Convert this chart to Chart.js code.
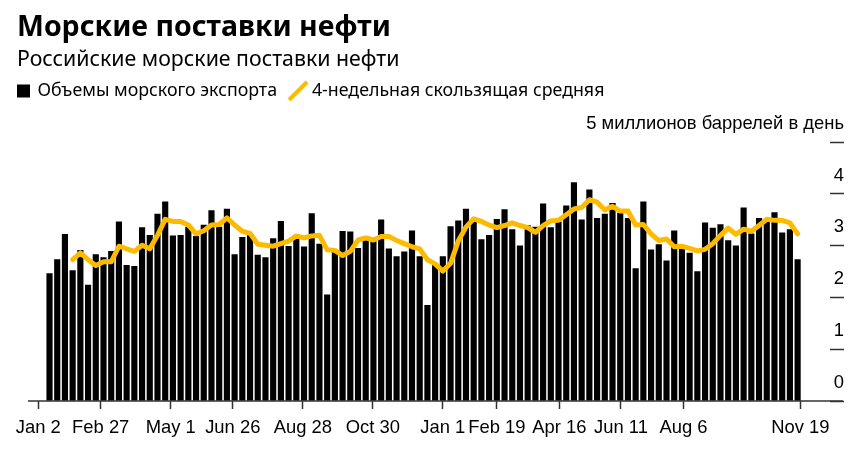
<!DOCTYPE html>
<html>
<head>
<meta charset="utf-8">
<script src="https://cdn.jsdelivr.net/npm/chart.js@4"></script>
<style>
	body { margin: 0; background: #fff; }
	#wrap { position: relative; width: 865px; height: 451px; }
	#title, #subtitle { position: absolute; left: 17px; color: #000; font-family: "Noto Sans"; white-space: nowrap; }
	#title { top: 6px; font-size: 28.5px; line-height: 38px; font-weight: 700; }
	#subtitle { top: 44px; font-size: 21.3px; line-height: 28px; }
</style>
</head>
<body>
<div id="wrap">
	<canvas id="oil-chart" width="865" height="451"></canvas>
	<div id="title">Морские поставки нефти</div>
	<div id="subtitle">Российские морские поставки нефти</div>
</div>
<script>
const seaExports = [
	2.46, 2.73, 3.22, 2.52, 2.91, 2.24, 2.83, 2.77, 2.89, 3.46,
	2.62, 2.60, 3.35, 3.20, 3.61, 3.85, 3.19, 3.20, 3.36, 3.18,
	3.40, 3.68, 3.36, 3.71, 2.83, 3.16, 3.20, 2.82, 2.77, 3.14,
	3.47, 2.99, 3.13, 2.98, 3.62, 3.03, 2.05, 2.88, 3.28, 3.27,
	2.95, 3.10, 3.08, 3.50, 2.94, 2.79, 2.88, 3.29, 2.79, 1.85,
	2.62, 2.79, 3.37, 3.48, 3.71, 3.46, 3.12, 3.20, 3.51, 3.70,
	3.31, 3.00, 3.39, 3.36, 3.81, 3.35, 3.46, 3.77, 4.22, 3.50,
	4.08, 3.53, 3.61, 3.82, 3.63, 3.53, 2.56, 3.85, 2.92, 3.02,
	2.71, 3.29, 2.94, 2.86, 2.50, 3.44, 3.34, 3.41, 3.10, 3.00,
	3.73, 3.23, 3.53, 3.49, 3.64, 3.25, 3.31, 2.73
];
// starts at the 4th week
const movingAverage = [
	2.73, 2.86, 2.73, 2.62, 2.69, 2.69, 2.99, 2.94, 2.89, 3.01,
	2.94, 3.20, 3.51, 3.47, 3.47, 3.40, 3.23, 3.29, 3.40, 3.41,
	3.54, 3.40, 3.28, 3.24, 3.03, 3.01, 2.99, 3.04, 3.09, 3.19,
	3.15, 3.19, 3.20, 2.92, 2.91, 2.81, 2.89, 3.11, 3.15, 3.11,
	3.18, 3.18, 3.10, 3.04, 2.98, 2.94, 2.73, 2.65, 2.51, 2.66,
	3.09, 3.36, 3.52, 3.47, 3.40, 3.35, 3.39, 3.44, 3.39, 3.35,
	3.26, 3.39, 3.48, 3.49, 3.60, 3.71, 3.74, 3.89, 3.84, 3.69,
	3.76, 3.67, 3.67, 3.40, 3.41, 3.23, 3.10, 3.13, 2.98, 2.99,
	2.95, 2.90, 2.93, 3.04, 3.20, 3.34, 3.22, 3.32, 3.28, 3.39,
	3.51, 3.49, 3.49, 3.44, 3.23
];
const xTickLabels = ['Jan 2', 'Feb 27', 'May 1', 'Jun 26', 'Aug 28', 'Oct 30', 'Jan 1', 'Feb 19', 'Apr 16', 'Jun 11', 'Aug 6', 'Nov 19'];
const xTickWeeks = [-1.45, 6.64, 15.72, 23.76, 32.84, 41.92, 51, 58, 66.1, 74.1, 82.2, 97.35];
const yTickValues = [0, 1, 2, 3, 4, 5];
const yTickLabels = ['0', '1', '2', '3', '4', '5 миллионов баррелей в день'];

const inkColor = '#000';
const tickColor = '#333';
const lineColor = '#fdbb00';
const axisFont = { family: 'Liberation Sans', size: 18.4 };

// legend mark for the moving average: a slanted stroke
const slash = document.createElement('canvas');
slash.width = 22;
slash.height = 22;
const slashCtx = slash.getContext('2d');
slashCtx.strokeStyle = lineColor;
slashCtx.lineWidth = 4;
slashCtx.beginPath();
slashCtx.moveTo(2, 20);
slashCtx.lineTo(20, 2);
slashCtx.stroke();

// the baseline runs past both ends of the plot
const baseline = {
	id: 'baseline',
	afterDatasetsDraw(chart) {
		const y = chart.scales.y.getPixelForValue(0);
		const ctx = chart.ctx;
		ctx.save();
		ctx.strokeStyle = tickColor;
		ctx.lineWidth = 1.5;
		ctx.beginPath();
		ctx.moveTo(28, y);
		ctx.lineTo(843, y);
		ctx.stroke();
		ctx.restore();
	}
};

new Chart(document.getElementById('oil-chart'), {
	type: 'bar',
	plugins: [baseline],
	data: {
		datasets: [{
			type: 'line',
			label: '4-недельная скользящая средняя',
			data: movingAverage.map((y, i) => ({ x: i + 3, y })),
			borderColor: lineColor,
			backgroundColor: lineColor,
			borderWidth: 5,
			borderJoinStyle: 'round',
			borderCapStyle: 'round',
			pointRadius: 0,
			tension: 0,
			order: 0
		}, {
			label: 'Объемы морского экспорта',
			data: seaExports.map((y, i) => ({ x: i, y })),
			backgroundColor: inkColor,
			barThickness: 5.5,
			order: 1
		}]
	},
	options: {
		responsive: false,
		animation: false,
		layout: { padding: { top: 66, left: 2.5, right: 21, bottom: 0 } },
		plugins: {
			tooltip: { enabled: false },
			legend: {
				align: 'start',
				reverse: true,
				labels: {
					color: inkColor,
					font: { family: 'Noto Sans', size: 17.8 },
					usePointStyle: true,
					boxHeight: 13,
					boxWidth: 10,
					padding: 16,
					generateLabels: chart => chart.data.datasets.map((ds, i) => ({
						text: ds.label,
						datasetIndex: i,
						fontColor: inkColor,
						fillStyle: inkColor,
						strokeStyle: inkColor,
						lineWidth: 0,
						pointStyle: ds.type === 'line' ? slash : 'rect'
					}))
				}
			}
		},
		scales: {
			x: {
				type: 'linear',
				offset: false,
				min: -6.096,
				max: 101.2,
				afterBuildTicks: scale => { scale.ticks = xTickWeeks.map(value => ({ value })); },
				afterFit: scale => { scale.height = 50; },
				border: { display: false },
				grid: { offset: false, drawOnChartArea: false, tickLength: 8, tickColor, tickWidth: 1.5 },
				ticks: {
					autoSkip: false,
					maxRotation: 0,
					color: inkColor,
					font: axisFont,
					padding: 8,
					callback: (value, i) => xTickLabels[i]
				}
			},
			y: {
				position: 'right',
				min: 0,
				max: 5.626,
				afterBuildTicks: scale => { scale.ticks = yTickValues.map(value => ({ value })); },
				afterFit: scale => { scale.width = 14; },
				border: { display: false },
				grid: { drawOnChartArea: false, tickLength: 14, tickColor, tickWidth: 1.5 },
				ticks: {
					mirror: true,
					padding: 14,
					labelOffset: -18.5,
					color: inkColor,
					font: axisFont,
					callback: (value, i) => yTickLabels[i]
				}
			}
		}
	}
});
</script>
</body>
</html>
